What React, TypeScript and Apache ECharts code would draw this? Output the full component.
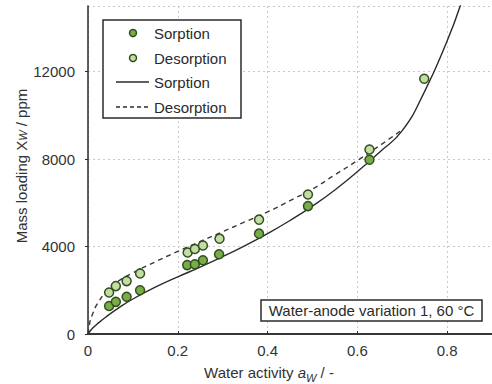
import React, { useEffect, useRef } from "react";
import * as echarts from "echarts";

const sorptionAw = [0.047, 0.062, 0.086, 0.116, 0.221, 0.238, 0.256, 0.292, 0.381, 0.49, 0.627];
const sorptionX = [1280, 1470, 1700, 2000, 3150, 3190, 3370, 3650, 4590, 5850, 7970];
const desorptionAw = [0.047, 0.062, 0.086, 0.116, 0.222, 0.238, 0.256, 0.293, 0.381, 0.49, 0.627, 0.749];
const desorptionX = [1900, 2190, 2420, 2770, 3730, 3890, 4050, 4360, 5230, 6380, 8440, 11670];

const sorpFitAw = [0, 0.01, 0.02, 0.04, 0.07, 0.1, 0.15, 0.2, 0.25, 0.3, 0.35, 0.4, 0.45, 0.5, 0.55, 0.6, 0.65, 0.7, 0.75, 0.8, 0.83];
const sorpFitX = [0, 260, 450, 780, 1215, 1600, 2140, 2613, 3063, 3538, 4045, 4593, 5190, 5850, 6588, 7423, 8323, 9298, 11098, 13398, 15050];
const desFitAw = [0, 0.005, 0.01, 0.02, 0.047, 0.07, 0.1, 0.15, 0.2, 0.25, 0.3, 0.35, 0.4, 0.45, 0.5, 0.55, 0.6, 0.65, 0.697];
const desFitX = [0, 620, 900, 1350, 2100, 2450, 2800, 3300, 3780, 4230, 4680, 5130, 5580, 6100, 6630, 7280, 7930, 8620, 9300];

const legendLabels = ["Sorption", "Desorption", "Sorption", "Desorption"];
const annotation = "Water-anode variation 1, 60 °C";

const FONT = "'Liberation Sans', Arial, sans-serif";
const DARK = "#2b2b2b";
const SORP_FILL = "#76ad45";
const DES_FILL = "#c2dea3";
const MARK_BORDER = "#334d22";

export default function App() {
  const ref = useRef<HTMLDivElement>(null);
  useEffect(() => {
    if (!ref.current) return;
    const chart = echarts.init(ref.current, undefined, { renderer: "svg" });
    const zip = (a: number[], b: number[]) => a.map((v, i) => [v, b[i]]);
    const lx = 103, ly = 20;
    const rowY = [33, 58, 82, 107];
    const legendGraphics: any[] = [
      {
        type: "rect",
        shape: { x: lx, y: ly, width: 138, height: 98 },
        style: { fill: "#fff", stroke: DARK, lineWidth: 1.5 },
        z: 100,
      },
      {
        type: "circle",
        shape: { cx: 133, cy: rowY[0], r: 3.5 },
        style: { fill: SORP_FILL, stroke: MARK_BORDER, lineWidth: 1.5 },
        z: 101,
      },
      {
        type: "circle",
        shape: { cx: 133, cy: rowY[1], r: 3.5 },
        style: { fill: DES_FILL, stroke: MARK_BORDER, lineWidth: 1.5 },
        z: 101,
      },
      {
        type: "line",
        shape: { x1: 116, y1: rowY[2], x2: 149, y2: rowY[2] },
        style: { stroke: DARK, lineWidth: 1.3 },
        z: 101,
      },
      {
        type: "line",
        shape: { x1: 116, y1: rowY[3], x2: 149, y2: rowY[3] },
        style: { stroke: DARK, lineWidth: 1.3, lineDash: [4, 3] },
        z: 101,
      },
      ...legendLabels.map((t, i) => ({
        type: "text",
        x: 154,
        y: rowY[i],
        style: { text: t, font: `15px ${FONT}`, fill: DARK, verticalAlign: "middle", align: "left" },
        z: 101,
      })),
    ];
    chart.setOption({
      animation: false,
      grid: { left: 88, top: 6, right: 0, bottom: 50 },
      xAxis: [
        {
          type: "value",
          min: 0,
          max: 0.9,
          interval: 0.2,
          axisLine: { show: true, onZero: false, lineStyle: { color: DARK, width: 1.5 } },
          axisTick: { show: true, inside: true, length: 3, lineStyle: { color: DARK } },
          axisLabel: {
            showMaxLabel: false,
            margin: 9,
            fontSize: 15,
            fontFamily: FONT,
            color: "#333",
            formatter: (v: number) => (v === 0 ? "0" : String(Math.round(v * 10) / 10)),
          },
          splitLine: { show: true, lineStyle: { color: "#c9c9c9", type: [2, 3], width: 1 } },
        },
        {
          type: "value",
          position: "top",
          min: 0,
          max: 0.9,
          axisLine: { show: true, lineStyle: { color: DARK, width: 1.5 } },
          axisTick: { show: false },
          axisLabel: { show: false },
          splitLine: { show: false },
        },
      ],
      yAxis: {
        type: "value",
        min: 0,
        max: 15000,
        interval: 4000,
        axisLine: { show: true, onZero: false, lineStyle: { color: DARK, width: 1.5 } },
        axisTick: { show: true, length: 3, lineStyle: { color: DARK } },
        axisLabel: {
          showMaxLabel: false,
          margin: 13,
          fontSize: 15,
          fontFamily: FONT,
          color: "#333",
          formatter: (v: number) => String(Math.round(v)),
        },
        splitLine: { show: true, lineStyle: { color: "#c9c9c9", type: [2, 3], width: 1 } },
      },
      series: [
        {
          type: "line",
          name: "Sorption fit",
          data: zip(sorpFitAw, sorpFitX),
          showSymbol: false,
          symbol: "none",
          smooth: 0.5,
          lineStyle: { color: DARK, width: 1.4 },
          z: 3,
        },
        {
          type: "line",
          name: "Desorption fit",
          data: zip(desFitAw, desFitX),
          showSymbol: false,
          symbol: "none",
          smooth: 0.5,
          lineStyle: { color: "#3a3a3a", width: 1.4, type: [5, 4] },
          z: 3,
        },
        {
          type: "scatter",
          name: "Sorption",
          data: zip(sorptionAw, sorptionX),
          symbol: "circle",
          symbolSize: 9,
          itemStyle: { color: SORP_FILL, borderColor: MARK_BORDER, borderWidth: 1.5, opacity: 1 },
          z: 5,
        },
        {
          type: "scatter",
          name: "Desorption",
          data: zip(desorptionAw, desorptionX),
          symbol: "circle",
          symbolSize: 9,
          itemStyle: { color: DES_FILL, borderColor: MARK_BORDER, borderWidth: 1.5, opacity: 1 },
          z: 5,
        },
      ],
      graphic: [
        ...legendGraphics,
        {
          type: "rect",
          shape: { x: 261, y: 300, width: 221, height: 21 },
          style: { fill: "#fff", stroke: DARK, lineWidth: 1.5 },
          z: 100,
        },
        {
          type: "text",
          x: 371.5,
          y: 310.5,
          style: { text: annotation, font: `15px ${FONT}`, fill: DARK, align: "center", verticalAlign: "middle" },
          z: 101,
        },
        {
          type: "text",
          x: 269,
          y: 372,
          style: {
            text: "Water activity {i|a}{sub|W} / -",
            font: `15px ${FONT}`,
            fill: "#333",
            align: "center",
            verticalAlign: "middle",
            rich: {
              i: { fontStyle: "italic", fontSize: 15, fontFamily: FONT, fill: "#333", lineHeight: 22, verticalAlign: "middle" },
              sub: { fontStyle: "italic", fontSize: 11, fontFamily: FONT, fill: "#333", lineHeight: 12, verticalAlign: "bottom" },
            },
          },
        },
        {
          type: "text",
          x: 21,
          y: 166,
          rotation: Math.PI / 2,
          style: {
            text: "Mass loading X{sub|W} / ppm",
            font: `15px ${FONT}`,
            fill: "#333",
            align: "center",
            verticalAlign: "middle",
            rich: {
              sub: { fontStyle: "italic", fontSize: 11, fontFamily: FONT, fill: "#333", lineHeight: 12, verticalAlign: "bottom" },
            },
          },
        },
      ],
    });
    return () => chart.dispose();
  }, []);
  return <div ref={ref} style={{ position: "fixed", left: 0, top: 0, width: 492, height: 384, background: "#fff" }} />;
}
